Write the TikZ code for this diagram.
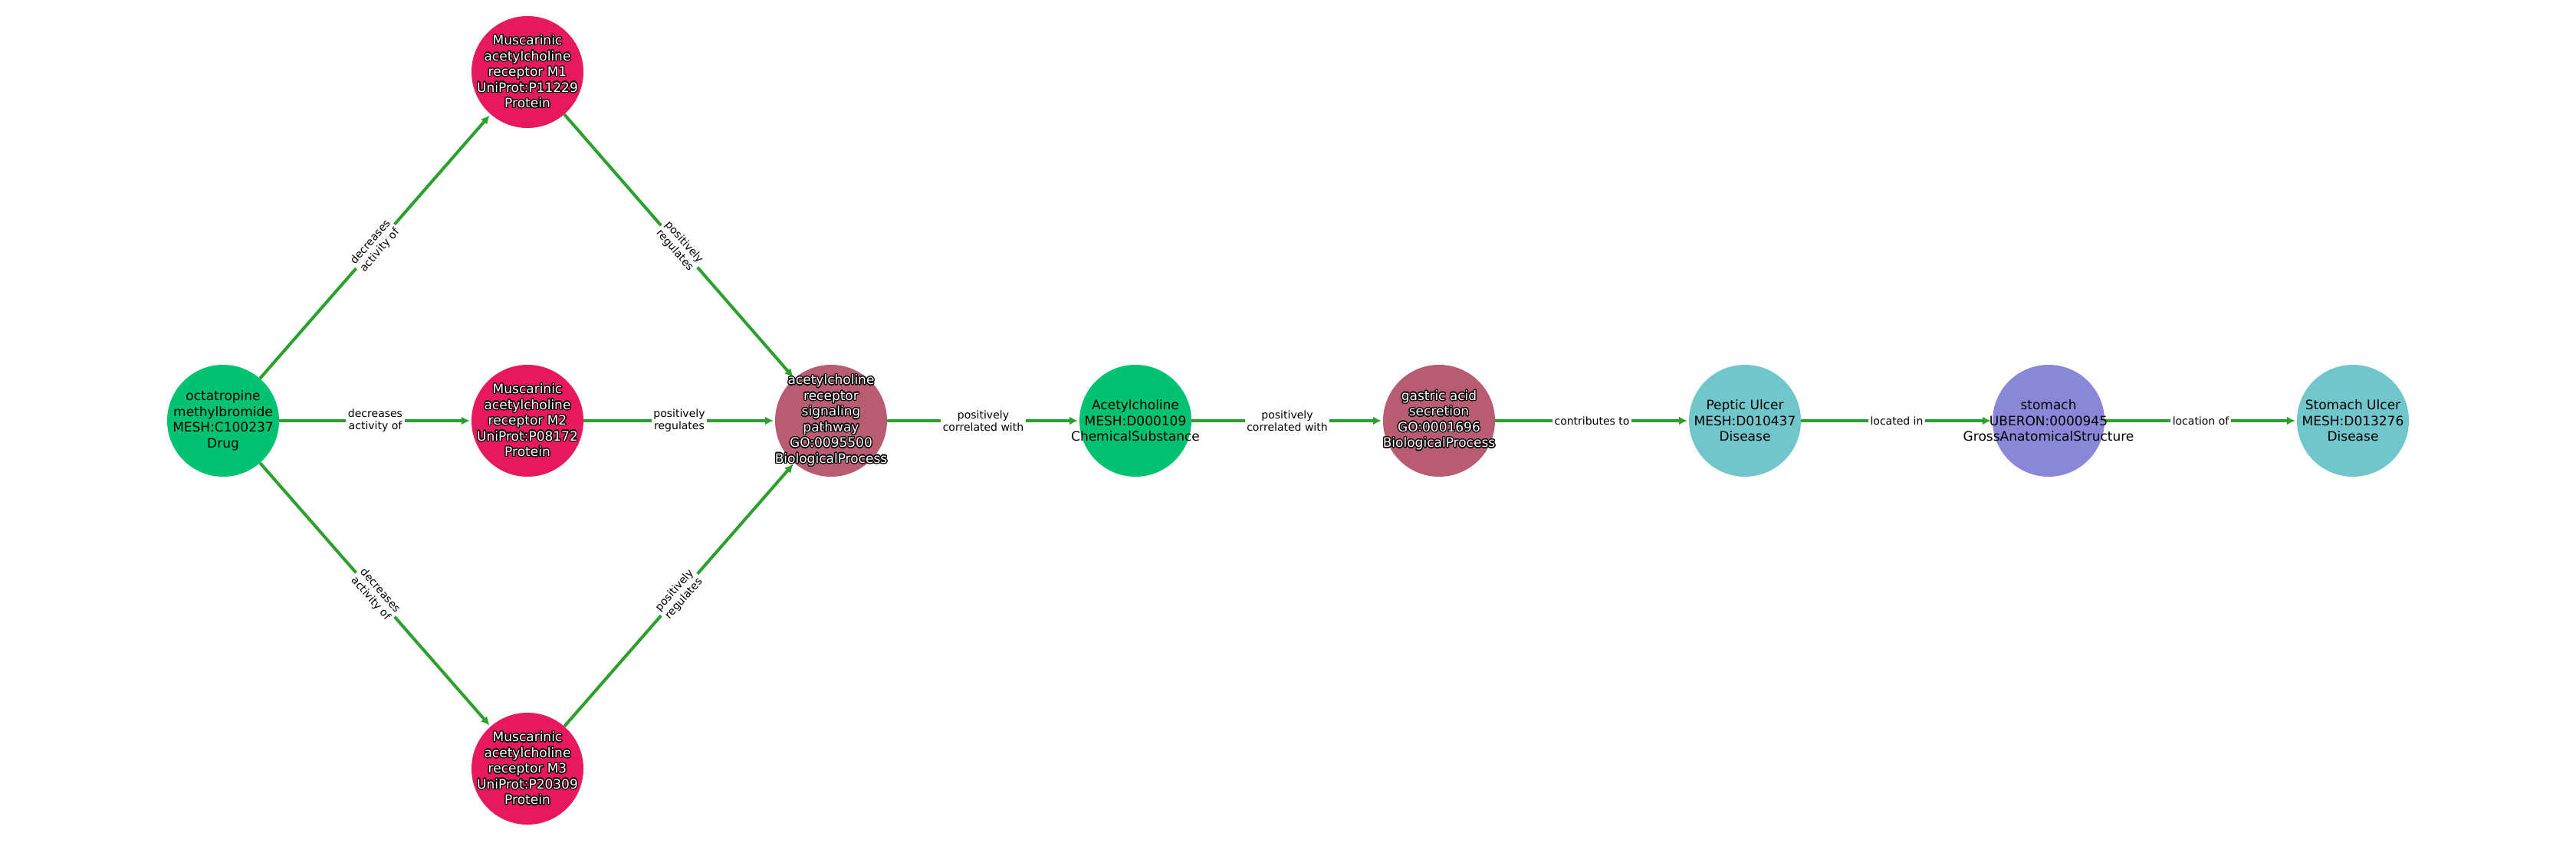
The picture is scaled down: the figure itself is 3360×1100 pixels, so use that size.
\documentclass[tikz,border=0pt]{standalone}
\usepackage{fontspec}
\setmainfont{DejaVu Sans}
\usepackage{contour}
\contourlength{1.3pt}
\usetikzlibrary{arrows.meta}
\definecolor{cdrug}{HTML}{00C270}
\definecolor{cprot}{HTML}{E8185F}
\definecolor{cbio}{HTML}{B95B73}
\definecolor{cdis}{HTML}{70C6CB}
\definecolor{canat}{HTML}{8B87D8}
\definecolor{egreen}{HTML}{2CA02C}
\newcommand{\wt}[1]{\contour{black}{#1}}
\begin{document}
\begin{tikzpicture}[x=1pt,y=-1pt,
  ent/.style={circle,minimum size=146pt,inner sep=0pt,draw=none},
  lbl/.style={font=\fontsize{17}{20.5}\selectfont,align=center,text=black,inner sep=0pt},
  wlbl/.style={lbl,text=white},
  edge/.style={draw=egreen,line width=4pt,shorten >=2pt,-{Latex[length=11pt,width=11pt]}},
  elab/.style={font=\fontsize{14}{16}\selectfont,align=center,fill=white,text=black,inner sep=2.5pt,sloped,midway}
]
\useasboundingbox (0,0) rectangle (3360,1100);

% circles
\node[ent,fill=cdrug] (oct) at (291,549) {};
\node[ent,fill=cprot] (m1) at (688,94) {};
\node[ent,fill=cprot] (m2) at (688,549) {};
\node[ent,fill=cprot] (m3) at (688,1003) {};
\node[ent,fill=cbio] (path) at (1084,549) {};
\node[ent,fill=cdrug] (ach) at (1481,549) {};
\node[ent,fill=cbio] (gas) at (1877,549) {};
\node[ent,fill=cdis] (pep) at (2276,549) {};
\node[ent,fill=canat] (sto) at (2672,549) {};
\node[ent,fill=cdis] (sul) at (3069,549) {};

% edges
\draw[edge] (oct) -- node[elab] {decreases\\activity of} (m1);
\draw[edge] (oct) -- node[elab] {decreases\\activity of} (m2);
\draw[edge] (oct) -- node[elab] {decreases\\activity of} (m3);
\draw[edge] (m1) -- node[elab] {positively\\regulates} (path);
\draw[edge] (m2) -- node[elab] {positively\\regulates} (path);
\draw[edge] (m3) -- node[elab] {positively\\regulates} (path);
\draw[edge] (path) -- node[elab] {positively\\correlated with} (ach);
\draw[edge] (ach) -- node[elab] {positively\\correlated with} (gas);
\draw[edge] (gas) -- node[elab] {contributes to} (pep);
\draw[edge] (pep) -- node[elab] {located in} (sto);
\draw[edge] (sto) -- node[elab] {location of} (sul);

% node texts
\node[lbl] (oct-t) at (oct) {octatropine\\methylbromide\\MESH:C100237\\Drug};
\node[wlbl] (m1-t) at (m1) {\wt{Muscarinic}\\\wt{acetylcholine}\\\wt{receptor M1}\\\wt{UniProt:P11229}\\\wt{Protein}};
\node[wlbl] (m2-t) at (m2) {\wt{Muscarinic}\\\wt{acetylcholine}\\\wt{receptor M2}\\\wt{UniProt:P08172}\\\wt{Protein}};
\node[wlbl] (m3-t) at (m3) {\wt{Muscarinic}\\\wt{acetylcholine}\\\wt{receptor M3}\\\wt{UniProt:P20309}\\\wt{Protein}};
\node[wlbl] (path-t) at (path) {\wt{acetylcholine}\\\wt{receptor}\\\wt{signaling}\\\wt{pathway}\\\wt{GO:0095500}\\\wt{BiologicalProcess}};
\node[lbl] (ach-t) at (ach) {Acetylcholine\\MESH:D000109\\ChemicalSubstance};
\node[wlbl] (gas-t) at (gas) {\wt{gastric acid}\\\wt{secretion}\\\wt{GO:0001696}\\\wt{BiologicalProcess}};
\node[lbl] (pep-t) at (pep) {Peptic Ulcer\\MESH:D010437\\Disease};
\node[lbl] (sto-t) at (sto) {stomach\\UBERON:0000945\\GrossAnatomicalStructure};
\node[lbl] (sul-t) at (sul) {Stomach Ulcer\\MESH:D013276\\Disease};
\end{tikzpicture}
\end{document}
